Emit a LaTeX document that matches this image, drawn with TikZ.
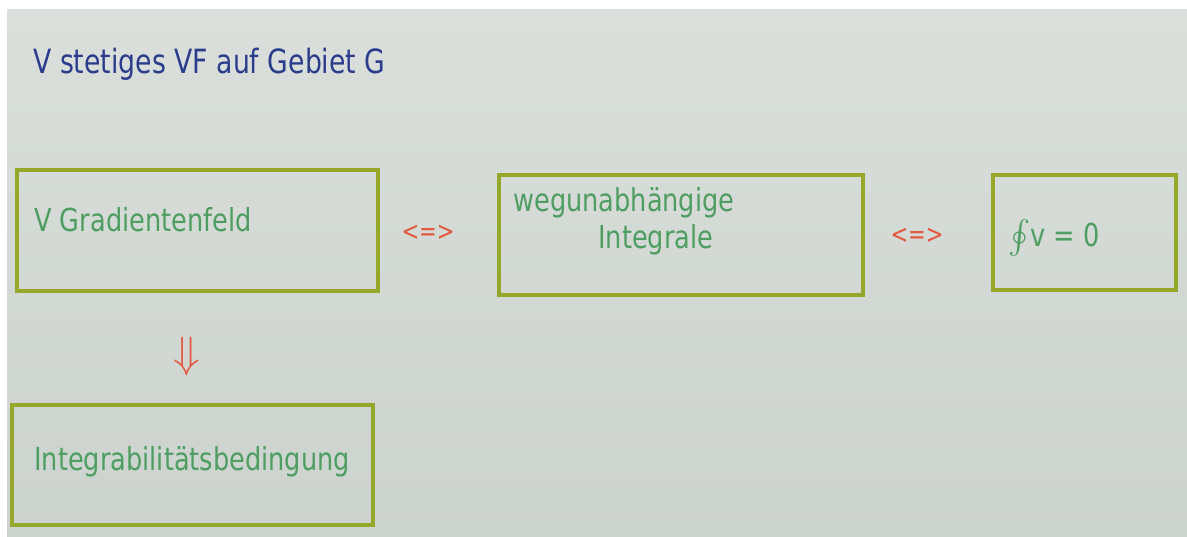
\documentclass[tikz,border=0pt]{standalone}
\usepackage{fontspec}
\setmainfont{DejaVu Sans}
\definecolor{paper}{HTML}{DADFDB}
\definecolor{paperdark}{HTML}{CCD2CE}
\definecolor{penblue}{HTML}{2B3C8C}
\definecolor{pengreen}{HTML}{4E9E62}
\definecolor{penolive}{HTML}{95A82A}
\definecolor{penred}{HTML}{E2573E}

\begin{document}
\begin{tikzpicture}[x=0.02cm,y=-0.02cm,
    box/.style={draw=penolive,line width=2.6pt},
    hand/.style={font=\fontsize{18}{22}\selectfont\addfontfeature{FakeStretch=0.81},anchor=west,inner sep=0pt},
    boxtext/.style={hand,text=pengreen},
    equiv/.style={text=penred,font=\fontsize{15}{18}\selectfont\addfontfeature{FakeStretch=0.8}}]
            % paper
            \useasboundingbox (0,0) rectangle (1187,537);
            \fill[white] (0,0) rectangle (1187,537);
            \shade[top color=paper,bottom color=paperdark] (7,10) rectangle (1187,537);
            \node[hand,text=penblue,font=\fontsize{19}{23}\selectfont\addfontfeature{FakeStretch=0.8}] (title) at (33,64) {V stetiges VF auf Gebiet G};
            % boxes
            \node[box,minimum width=7.22cm,minimum height=2.42cm] (grad) at (197.5,230.5) {};
            \node[box,minimum width=7.28cm,minimum height=2.40cm] (weg) at (681,235) {};
            \node[box,minimum width=3.66cm,minimum height=2.30cm] (ring) at (1084.5,232.5) {};
            \node[box,minimum width=7.22cm,minimum height=2.40cm] (integ) at (192.5,465) {};
            \node[boxtext] (gradt) at (34,220) {V Gradientenfeld};
            \node[boxtext] (wegt) at (513,203) {wegunabhängige};
            \node[boxtext] (wegu) at (598,240) {Integrale};
            \node[boxtext] (ringt) at (1008,238) {\raisebox{-0.35ex}{\scalebox{1.9}{$\oint$}}v = 0};
            \node[boxtext] (integt) at (34,462) {Integrabilitätsbedingung};
            % equivalences
            \node[equiv] (eqa) at (428,233) {<=>};
            \node[equiv] (eqb) at (917,236) {<=>};
            \node[equiv,font=\fontsize{30}{32}\selectfont] (impl) at (187,357) {$\Downarrow$};
\end{tikzpicture}
\end{document}
